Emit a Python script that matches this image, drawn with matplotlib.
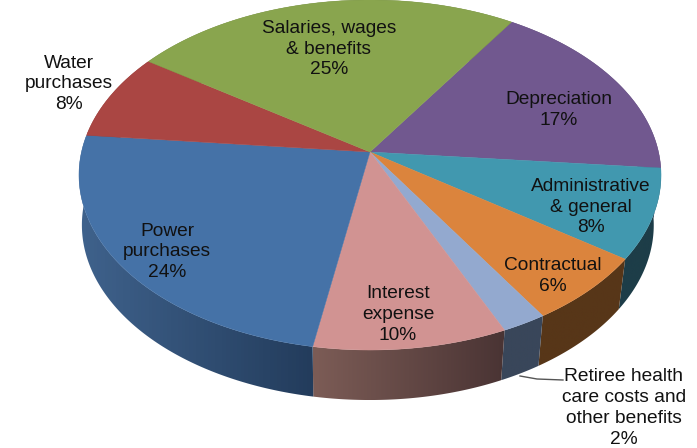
import numpy as np
import matplotlib
matplotlib.use("Agg")
import matplotlib.pyplot as plt
from matplotlib.colors import to_rgb
from matplotlib.patches import Polygon

# slice data, clockwise from the Depreciation slice
categories = ["Depreciation", "Administrative\n& general", "Contractual",
              "Retiree health\ncare costs and\nother benefits", "Interest\nexpense",
              "Power\npurchases", "Water\npurchases", "Salaries, wages\n& benefits"]
values = [17.3, 8.3, 6.3, 2.2, 9.5, 23.8, 8.0, 24.6]
shown_pct = [17, 8, 6, 2, 10, 24, 8, 25]

top_colors = ["#71588f", "#4198af", "#db843d", "#93a9cf", "#d19392", "#4572a7", "#aa4643", "#89a54e"]
# wall colours at the left and right end of each slice
wall_left = ["#4a3a60", "#1d3d48", "#573618", "#39465a", "#7c5c56", "#3f628c", "#6e2e2c", "#5a6c33"]
wall_right = ["#4a3a60", "#1d3d48", "#573618", "#39465a", "#4a3434", "#233c5c", "#6e2e2c", "#5a6c33"]

# centre of each label, in pixels
label_xy = [(559, 110), (591, 207), (553, 276), (624, 408), (398, 314.5), (167, 252), (68.5, 84), (329, 49)]

start_angle = 33.0
apex_x, apex_y = 370, 152
rx, ry, persp = 288.5, 172, 0.1314
depth = 50
# the bottom rim pulls in a bit more on the right than on the left
scale_left, scale_right = 0.99, 0.975


def project(theta):
    # true disc angle (clockwise from far side) to screen pixels
    t = np.radians(theta)
    u, v = np.sin(t), np.cos(t)
    d = 1 + persp * v
    return apex_x + rx * u / d, apex_y - ry * v / d


fig = plt.figure(figsize=(6.97, 4.48), dpi=100)
ax = fig.add_axes([0, 0, 1, 1])

edges = start_angle + 3.6 * np.concatenate([[0], np.cumsum(values)])

# side wall first, the top covers whatever is at the back
for i in range(len(values)):
    xs, ys = project(np.linspace(edges[i], edges[i + 1], 120))
    bx = apex_x + (xs - apex_x) * np.where(xs < apex_x, scale_left, scale_right)
    by = ys + depth
    px = np.r_[xs, bx[::-1]]
    py = np.r_[ys, by[::-1]]
    grad = np.linspace(to_rgb(wall_left[i]), to_rgb(wall_right[i]), 64)[np.newaxis, :, :]
    im = ax.imshow(grad, extent=(px.min(), px.max(), py.max(), py.min()), aspect="auto", zorder=1)
    clip = Polygon(np.c_[px, py], closed=True, transform=ax.transData)
    im.set_clip_path(clip)

# top of the pie
for i in range(len(values)):
    xs, ys = project(np.linspace(edges[i], edges[i + 1], 120))
    ax.fill(np.r_[apex_x, xs], np.r_[apex_y, ys], color=top_colors[i], lw=0.3, zorder=2)

# leader line for the small slice
ax.plot([520, 537, 563], [376, 379, 380], color="#555555", lw=1, zorder=3)

for name, pct, (lx, ly) in zip(categories, shown_pct, label_xy):
    ax.text(lx, ly, f"{name}\n{pct}%", ha="center", va="center", family="Liberation Sans",
            fontsize=13.8, linespacing=1.3, color="#111111", zorder=4)

ax.set_xlim(0, 697)
ax.set_ylim(448, 0)
ax.axis("off")

fig.savefig("out.png", dpi=100)
